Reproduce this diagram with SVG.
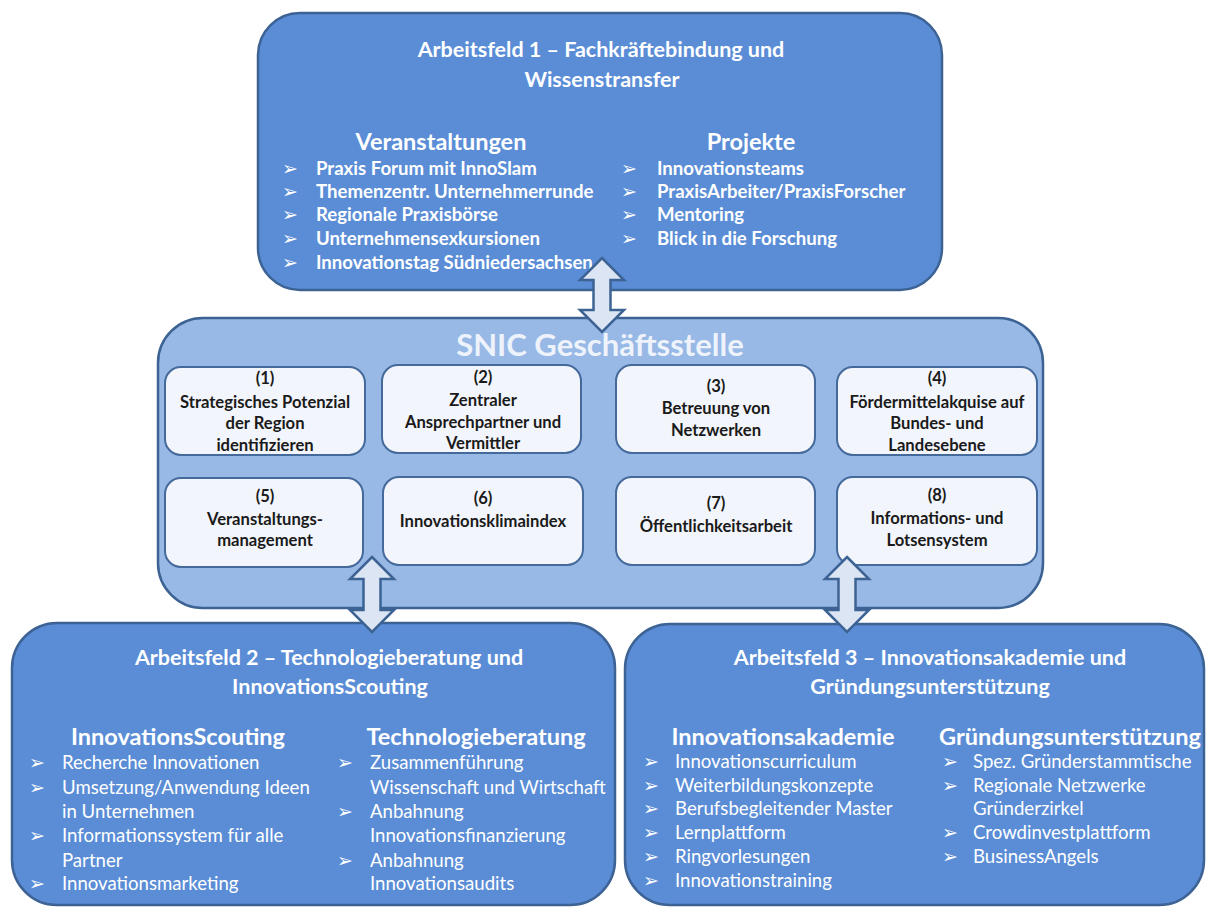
<svg xmlns="http://www.w3.org/2000/svg" width="1206" height="909" viewBox="0 0 1206 909">
<style>
text{font-family:Lato,"Open Sans","DejaVu Sans",sans-serif;}
.big{fill:#5a8dd6;stroke:#3d6394;stroke-width:2.5;}
.mid{fill:#98b9e6;stroke:#3d6394;stroke-width:2.5;}
.inner{fill:#f2f5fb;stroke:#44699b;stroke-width:2;}
.arrow{fill:#dbe5f3;stroke:#3d6394;stroke-width:2.5;stroke-linejoin:miter;}
.title{fill:#ffffff;font-weight:bold;font-size:21.5px;text-anchor:middle;}
.head{fill:#ffffff;font-weight:bold;font-size:23.5px;text-anchor:middle;}
.itb{fill:#ffffff;font-weight:bold;font-size:18.6px;}
.it{fill:#ffffff;font-size:18.6px;}
.bul{fill:#ffffff;font-family:"DejaVu Sans",sans-serif;font-size:19px;}
.box{fill:#1a1a1a;font-weight:bold;font-size:16.6px;text-anchor:middle;}
.snic{fill:#eef3fb;font-weight:bold;font-size:31px;text-anchor:middle;}
</style>

<g id="arbeitsfeld1">
<rect class="big" x="258" y="13" width="684" height="277" rx="42"/>
<text class="title" x="601" y="57">Arbeitsfeld 1 – Fachkräftebindung und</text>
<text class="title" x="602" y="87">Wissenstransfer</text>
<text class="head" x="441" y="150">Veranstaltungen</text>
<text class="head" x="751" y="150">Projekte</text>
<text class="bul" x="282" y="175">➢</text><text class="itb" x="316" y="175">Praxis Forum mit InnoSlam</text>
<text class="bul" x="282" y="198">➢</text><text class="itb" x="316" y="198">Themenzentr. Unternehmerrunde</text>
<text class="bul" x="282" y="221">➢</text><text class="itb" x="316" y="221">Regionale Praxisbörse</text>
<text class="bul" x="282" y="245">➢</text><text class="itb" x="316" y="245">Unternehmensexkursionen</text>
<text class="bul" x="282" y="269">➢</text><text class="itb" x="316" y="269">Innovationstag Südniedersachsen</text>
<text class="bul" x="621" y="175">➢</text><text class="itb" x="657" y="175">Innovationsteams</text>
<text class="bul" x="621" y="198">➢</text><text class="itb" x="657" y="198">PraxisArbeiter/PraxisForscher</text>
<text class="bul" x="621" y="221">➢</text><text class="itb" x="657" y="221">Mentoring</text>
<text class="bul" x="621" y="245">➢</text><text class="itb" x="657" y="245">Blick in die Forschung</text>
</g>

<g id="geschaeftsstelle">
<rect class="mid" x="158" y="318" width="885" height="290" rx="45"/>
<text class="snic" x="600" y="356">SNIC Geschäftsstelle</text>
</g>

<g id="n1">
<rect class="inner" x="165" y="367" width="200" height="88" rx="16"/>
<text class="box" x="265" y="384">(1)</text>
<text class="box" x="265" y="408">Strategisches Potenzial</text>
<text class="box" x="265" y="429">der Region</text>
<text class="box" x="265" y="451">identifizieren</text>
</g>
<g id="n2">
<rect class="inner" x="382" y="365" width="199" height="88" rx="16"/>
<text class="box" x="483" y="383">(2)</text>
<text class="box" x="483" y="406">Zentraler</text>
<text class="box" x="483" y="428">Ansprechpartner und</text>
<text class="box" x="483" y="449">Vermittler</text>
</g>
<g id="n3">
<rect class="inner" x="616" y="365" width="199" height="88" rx="16"/>
<text class="box" x="716" y="392">(3)</text>
<text class="box" x="716" y="414">Betreuung von</text>
<text class="box" x="716" y="436">Netzwerken</text>
</g>
<g id="n4">
<rect class="inner" x="837" y="367" width="200" height="88" rx="16"/>
<text class="box" x="937" y="384">(4)</text>
<text class="box" x="937" y="408">Fördermittelakquise auf</text>
<text class="box" x="937" y="429">Bundes- und</text>
<text class="box" x="937" y="451">Landesebene</text>
</g>
<g id="n5">
<rect class="inner" x="165" y="478" width="198" height="89" rx="16"/>
<text class="box" x="265" y="502">(5)</text>
<text class="box" x="265" y="525">Veranstaltungs-</text>
<text class="box" x="265" y="546">management</text>
</g>
<g id="n6">
<rect class="inner" x="383" y="477" width="200" height="88" rx="16"/>
<text class="box" x="483" y="504">(6)</text>
<text class="box" x="483" y="527">Innovationsklimaindex</text>
</g>
<g id="n7">
<rect class="inner" x="616" y="477" width="199" height="88" rx="16"/>
<text class="box" x="716" y="509">(7)</text>
<text class="box" x="716" y="532">Öffentlichkeitsarbeit</text>
</g>
<g id="n8">
<rect class="inner" x="837" y="477" width="200" height="88" rx="16"/>
<text class="box" x="937" y="501">(8)</text>
<text class="box" x="937" y="524">Informations- und</text>
<text class="box" x="937" y="546">Lotsensystem</text>
</g>

<g id="arbeitsfeld2">
<rect class="big" x="12" y="623" width="603" height="282" rx="45"/>
<text class="title" x="329" y="665">Arbeitsfeld 2 – Technologieberatung und</text>
<text class="title" x="330" y="694">InnovationsScouting</text>
<text class="head" x="178" y="745">InnovationsScouting</text>
<text class="head" x="476" y="745">Technologieberatung</text>
<text class="bul" x="29" y="769">➢</text><text class="it" x="62" y="769">Recherche Innovationen</text>
<text class="bul" x="29" y="794">➢</text><text class="it" x="62" y="794">Umsetzung/Anwendung Ideen</text>
<text class="it" x="62" y="818">in Unternehmen</text>
<text class="bul" x="29" y="842">➢</text><text class="it" x="62" y="842">Informationssystem für alle</text>
<text class="it" x="62" y="867">Partner</text>
<text class="bul" x="29" y="890">➢</text><text class="it" x="62" y="890">Innovationsmarketing</text>
<text class="bul" x="337" y="769">➢</text><text class="it" x="370" y="769">Zusammenführung</text>
<text class="it" x="370" y="794">Wissenschaft und Wirtschaft</text>
<text class="bul" x="337" y="818">➢</text><text class="it" x="370" y="818">Anbahnung</text>
<text class="it" x="370" y="842">Innovationsfinanzierung</text>
<text class="bul" x="337" y="867">➢</text><text class="it" x="370" y="867">Anbahnung</text>
<text class="it" x="370" y="890">Innovationsaudits</text>
</g>

<g id="arbeitsfeld3">
<rect class="big" x="625" y="624" width="579" height="281" rx="45"/>
<text class="title" x="930" y="665">Arbeitsfeld 3 – Innovationsakademie und</text>
<text class="title" x="930" y="694">Gründungsunterstützung</text>
<text class="head" x="783" y="745">Innovationsakademie</text>
<text class="head" x="1070" y="745">Gründungsunterstützung</text>
<text class="bul" x="643" y="768">➢</text><text class="it" x="675" y="768">Innovationscurriculum</text>
<text class="bul" x="643" y="792">➢</text><text class="it" x="675" y="792">Weiterbildungskonzepte</text>
<text class="bul" x="643" y="815">➢</text><text class="it" x="675" y="815">Berufsbegleitender Master</text>
<text class="bul" x="643" y="839">➢</text><text class="it" x="675" y="839">Lernplattform</text>
<text class="bul" x="643" y="863">➢</text><text class="it" x="675" y="863">Ringvorlesungen</text>
<text class="bul" x="643" y="887">➢</text><text class="it" x="675" y="887">Innovationstraining</text>
<text class="bul" x="942" y="768">➢</text><text class="it" x="973" y="768">Spez. Gründerstammtische</text>
<text class="bul" x="942" y="792">➢</text><text class="it" x="973" y="792">Regionale Netzwerke</text>
<text class="it" x="973" y="815">Gründerzirkel</text>
<text class="bul" x="942" y="839">➢</text><text class="it" x="973" y="839">Crowdinvestplattform</text>
<text class="bul" x="942" y="863">➢</text><text class="it" x="973" y="863">BusinessAngels</text>
</g>

<g id="connectors">
<path class="arrow" d="M602,258 L624,280 L610.5,280 L610.5,310 L624,310 L602,332 L580,310 L593.5,310 L593.5,280 L580,280 Z"/>
<path class="arrow" d="M372,557 L394,579 L380.5,579 L380.5,610 L394,610 L372,632 L350,610 L363.5,610 L363.5,579 L350,579 Z"/>
<path class="arrow" d="M847,557 L869,579 L855.5,579 L855.5,610 L869,610 L847,632 L825,610 L838.5,610 L838.5,579 L825,579 Z"/>
</g>
</svg>
